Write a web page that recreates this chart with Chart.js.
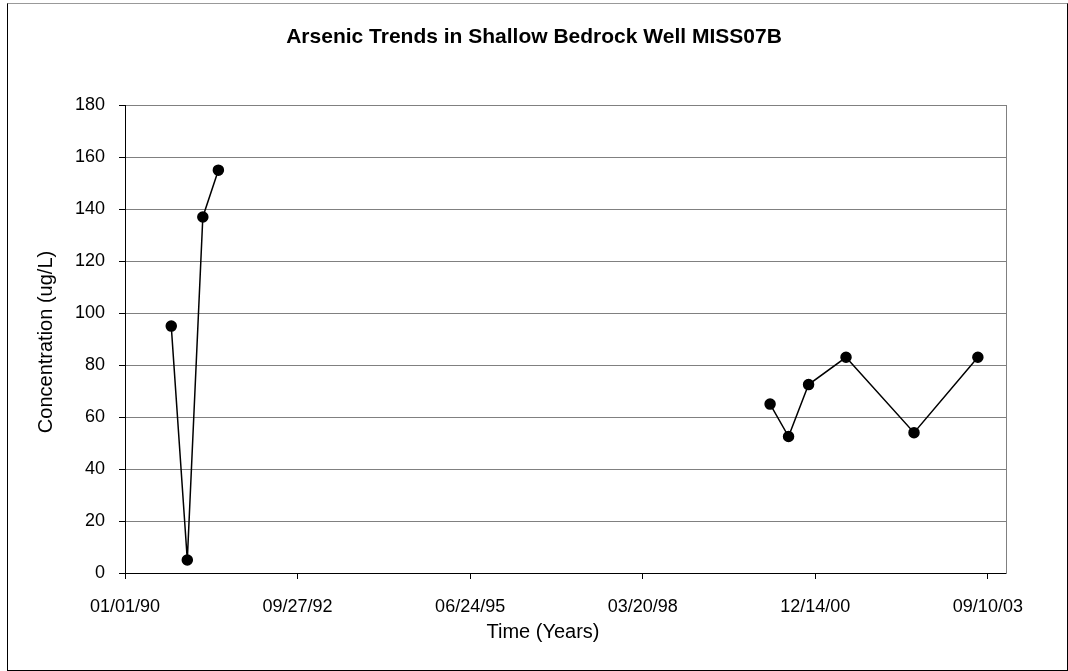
<!DOCTYPE html>
<html>
<head>
<meta charset="utf-8">
<script src="https://cdn.jsdelivr.net/npm/chart.js@4.4.0/dist/chart.umd.min.js"></script>
<style>
  html, body { margin: 0; padding: 0; background: #fff; }
  #wrap { position: relative; width: 1068px; height: 671px; }
  #wrap canvas { position: absolute; left: 0; top: 0; }
  #frame { position: absolute; left: 7px; top: 3px; right: 0; bottom: 0; border: 1px solid #000; border-top-color: #999; pointer-events: none; }
</style>
</head>
<body>
<div id="wrap">
  <canvas id="chartArsenico" width="1068" height="671"></canvas>
  <div id="frame"></div>
</div>
<script>
// ===== Datos =====
const tituloGrafico = "Arsenic Trends in Shallow Bedrock Well MISS07B";
const tituloX = "Time (Years)";
const tituloY = "Concentration (ug/L)";

// muestreos 1990-1991
const fechasTempranas = ["1990-09-26", "1990-12-28", "1991-03-28", "1991-06-26"];
const arsenicoTemprano = [95, 5, 137, 155];

// muestreos 2000-2003
const fechasTardias = ["2000-03-27", "2000-07-12", "2000-11-05", "2001-06-10", "2002-07-09", "2003-07-14"];
const arsenicoTardio = [65, 52.5, 72.5, 83, 54, 83];

// eje de tiempo: marcas cada 1000 dias desde 01/01/90 (como Excel)
const inicioEje = "1990-01-01";
const finEje = "2003-12-24";
const marcasX = ["1990-01-01", "1992-09-27", "1995-06-24", "1998-03-20", "2000-12-14", "2003-09-10"];
const ejeY = { min: 0, max: 180, paso: 20 };

const DIA = 86400000;
const ORIGEN = Date.parse(inicioEje);
const aDias = s => Math.round((Date.parse(s) - ORIGEN) / DIA);

function formatoFecha(dias) {
  const d = new Date(ORIGEN + dias * DIA);
  const p = n => String(n).padStart(2, "0");
  return p(d.getUTCMonth() + 1) + "/" + p(d.getUTCDate()) + "/" + p(d.getUTCFullYear() % 100);
}

function serie(fechas, valores) {
  return {
    data: fechas.map((f, i) => ({ x: aDias(f), y: valores[i] })),
    showLine: true,
    borderColor: "#000",
    borderWidth: 1.5,
    pointBackgroundColor: "#000",
    pointBorderColor: "#000",
    pointRadius: 5,
    pointHoverRadius: 5
  };
}

// titulos de ejes (Excel no los centra sobre el area de trazado)
const titulosEjes = {
  id: "titulosEjes",
  afterDraw(chart) {
    const ctx = chart.ctx;
    ctx.save();
    ctx.font = '20px "Liberation Sans", Arial, sans-serif';
    ctx.fillStyle = "#000";
    ctx.textAlign = "center";
    ctx.textBaseline = "middle";
    ctx.fillText(tituloX, 543, 632);
    ctx.translate(46, 342);
    ctx.rotate(-Math.PI / 2);
    ctx.fillText(tituloY, 0, 0);
    ctx.restore();
  }
};

const fuente = { family: '"Liberation Sans", Arial, sans-serif', size: 18 };

new Chart(document.getElementById("chartArsenico"), {
  type: "scatter",
  data: {
    datasets: [serie(fechasTempranas, arsenicoTemprano), serie(fechasTardias, arsenicoTardio)]
  },
  options: {
    responsive: false,
    animation: false,
    layout: { padding: 0 },
    plugins: {
      legend: { display: false },
      tooltip: { enabled: false },
      title: {
        display: true,
        text: tituloGrafico,
        color: "#000",
        font: { family: fuente.family, size: 21, weight: "bold" },
        padding: { top: 25, bottom: 55 }
      }
    },
    scales: {
      x: {
        type: "linear",
        position: "bottom",
        min: 0,
        max: aDias(finEje),
        afterBuildTicks: s => { s.ticks = marcasX.map(f => ({ value: aDias(f) })); },
        afterFit: s => { s.height = 98; },
        ticks: {
          autoSkip: false,
          maxRotation: 0,
          padding: 17,
          color: "#000",
          font: fuente,
          callback: v => formatoFecha(v)
        },
        grid: { drawOnChartArea: false, tickLength: 6, tickColor: "#000" },
        border: { color: "#000", width: 1 }
      },
      y: {
        min: ejeY.min,
        max: ejeY.max,
        afterFit: s => { s.width = 125; },
        ticks: { stepSize: ejeY.paso, padding: 14, color: "#000", font: fuente },
        grid: {
          color: c => (c.tick && c.tick.value === 0 ? "rgba(0,0,0,0)" : "#808080"),
          tickLength: 6,
          tickColor: "#000"
        },
        border: { color: "#000", width: 1 }
      },
      yDer: {
        position: "right",
        min: ejeY.min,
        max: ejeY.max,
        afterFit: s => { s.width = 62; },
        ticks: { display: false },
        grid: { drawOnChartArea: false, drawTicks: false },
        border: { color: "#808080", width: 1 }
      }
    }
  },
  plugins: [titulosEjes]
});
</script>
</body>
</html>
